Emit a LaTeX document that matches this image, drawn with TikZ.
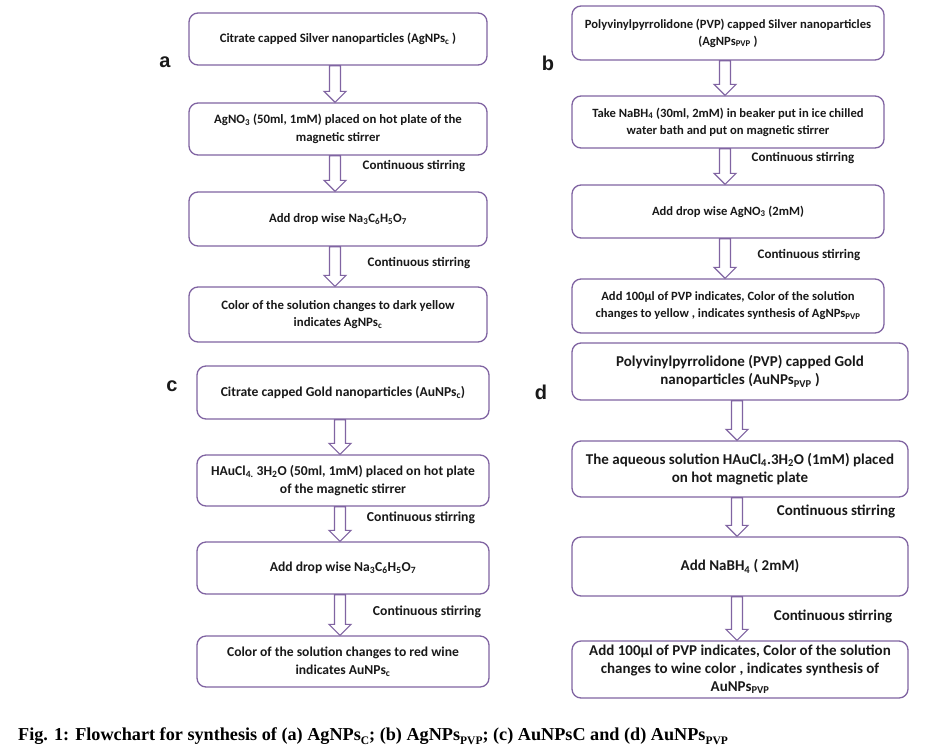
\documentclass[tikz,border=0pt]{standalone}
\usepackage{fontspec}
\setmainfont{Carlito}
\newfontfamily\capfont{Liberation Serif}
\newfontfamily\lblfont{Liberation Sans}
\usetikzlibrary{calc}
\definecolor{boxpurple}{RGB}{128,100,162}
\definecolor{txt}{RGB}{25,25,25}
\newcommand{\capsub}[1]{\raisebox{-4.5pt}{\fontsize{11.5}{11.5}\selectfont #1}}
\begin{document}
\begin{tikzpicture}[x=1pt,y=-1pt,
  stepbox/.style={draw=boxpurple, line width=1.3pt, rounded corners=9pt, fill=white,
    align=center, text=txt, inner sep=1pt},
  fa/.style={stepbox, minimum width=298pt, font=\bfseries\fontsize{12.8}{17.5}\selectfont},
  fb/.style={stepbox, minimum width=312pt, font=\bfseries\fontsize{12.6}{17}\selectfont},
  fc/.style={stepbox, minimum width=292pt, font=\bfseries\fontsize{13.6}{18}\selectfont},
  fd/.style={stepbox, minimum width=336pt, font=\bfseries\fontsize{15}{18}\selectfont},
  stir/.style={text=txt, inner sep=0pt, font=\bfseries\fontsize{#1}{#1}\selectfont},
  panel/.style={text=txt, inner sep=0pt, font=\lblfont\bfseries\fontsize{20}{20}\selectfont},
  fatarrow/.style={draw=boxpurple, line width=1.2pt, fill=white,
    to path={let \p1=(\tikztostart), \p2=(\tikztotarget) in
      (\x1-8.5pt,\y1) -- (\x1-8.5pt,\y2+11pt) -- (\x1-14pt,\y2+11pt) -- (\x1-3pt,\y2)
      -- (\x1+8pt,\y2+11pt) -- (\x1+2.5pt,\y2+11pt) -- (\x1+2.5pt,\y1) -- cycle}}
]
\useasboundingbox[fill=white] (0,0) rectangle (941,755);

% ---------- panel a ----------
\node[fa, minimum height=52pt] (a1) at (338,39) {Citrate capped Silver nanoparticles (AgNPs\textsubscript{c} )};
\node[fa, minimum height=52pt] (a2) at (338,129) {AgNO\textsubscript{3} (50ml, 1mM) placed on hot plate of the\\magnetic stirrer};
\node[fa, minimum height=54pt] (a3) at (338,219) {Add drop wise Na\textsubscript{3}C\textsubscript{6}H\textsubscript{5}O\textsubscript{7}};
\node[fa, minimum height=55pt] (a4) at (338,314.5) {Color of the solution changes to dark yellow\\indicates AgNPs\textsubscript{c}};
\draw[fatarrow] (a1.south) to (a2.north);
\draw[fatarrow] (a2.south) to (a3.north);
\draw[fatarrow] (a3.south) to (a4.north);
\node[stir=13] (sa1) at (414,166) {Continuous stirring};
\node[stir=13] (sa2) at (419,263) {Continuous stirring};
\node[panel] (la) at (165,62) {a};

% ---------- panel b ----------
\node[fb, minimum height=54pt] (b1) at (728,33) {Polyvinylpyrrolidone (PVP) capped Silver nanoparticles\\(AgNPs\textsubscript{PVP} )};
\node[fb, minimum height=52pt] (b2) at (728,122) {Take NaBH\textsubscript{4}  (30ml, 2mM) in beaker put in ice chilled\\water bath and put on magnetic stirrer};
\node[fb, minimum height=53pt] (b3) at (728,211.5) {Add drop wise AgNO\textsubscript{3}  (2mM)};
\node[fb, minimum height=54pt] (b4) at (728,306) {Add 100µl of PVP indicates, Color of the solution\\changes to yellow , indicates synthesis of  AgNPs\textsubscript{PVP}};
\draw[fatarrow] (b1.south) to (b2.north);
\draw[fatarrow] (b2.south) to (b3.north);
\draw[fatarrow] (b3.south) to (b4.north);
\node[stir=13] (sb1) at (803,158) {Continuous stirring};
\node[stir=13] (sb2) at (809,255) {Continuous stirring};
\node[panel] (lb) at (548,63) {b};

% ---------- panel c ----------
\node[fc, minimum height=53pt] (c1) at (343,392.5) {Citrate capped Gold nanoparticles (AuNPs\textsubscript{c})};
\node[fc, minimum height=51pt] (c2) at (343,480.5) {HAuCl\textsubscript{4.} 3H\textsubscript{2}O  (50ml, 1mM) placed on hot plate\\of the magnetic stirrer};
\node[fc, minimum height=52pt] (c3) at (343,568) {Add drop wise Na\textsubscript{3}C\textsubscript{6}H\textsubscript{5}O\textsubscript{7}};
\node[fc, minimum height=51pt] (c4) at (343,661.5) {Color of the solution changes to red wine\\indicates AuNPs\textsubscript{c}};
\draw[fatarrow] (c1.south) to (c2.north);
\draw[fatarrow] (c2.south) to (c3.north);
\draw[fatarrow] (c3.south) to (c4.north);
\node[stir=13.7] (sc1) at (421,518) {Continuous stirring};
\node[stir=13.7] (sc2) at (427,612) {Continuous stirring};
\node[panel] (lc) at (172,386) {c};

% ---------- panel d ----------
\node[fd, minimum height=57pt] (d1) at (740,371.5) {Polyvinylpyrrolidone (PVP) capped Gold\\nanoparticles (AuNPs\textsubscript{PVP} )};
\node[fd, minimum height=56pt] (d2) at (740,469) {The aqueous solution HAuCl\textsubscript{4}.3H\textsubscript{2}O  (1mM) placed\\on hot magnetic plate};
\node[fd, minimum height=59pt] (d3) at (740,566.5) {Add NaBH\textsubscript{4} ( 2mM)};
\node[fd, minimum height=57pt] (d4) at (740,669.5) {Add 100µl of PVP indicates, Color of the solution\\changes to wine color , indicates synthesis of\\AuNPs\textsubscript{PVP}};
\draw[fatarrow] (d1.south) to (d2.north);
\draw[fatarrow] (d2.south) to (d3.north);
\draw[fatarrow] (d3.south) to (d4.north);
\node[stir=15] (sd1) at (836,511) {Continuous stirring};
\node[stir=15] (sd2) at (833,616) {Continuous stirring};
\node[panel] (ld) at (541,392) {d};

% ---------- caption ----------
\node[anchor=base west, inner sep=0pt, text=black, font=\capfont\bfseries\fontsize{18.2}{18.2}\selectfont] (cap) at (18,740)
  {Fig. 1: Flowchart for synthesis of (a) AgNPs\capsub{C}; (b) AgNPs\capsub{PVP}; (c) AuNPsC and (d) AuNPs\capsub{PVP}};
\end{tikzpicture}
\end{document}
